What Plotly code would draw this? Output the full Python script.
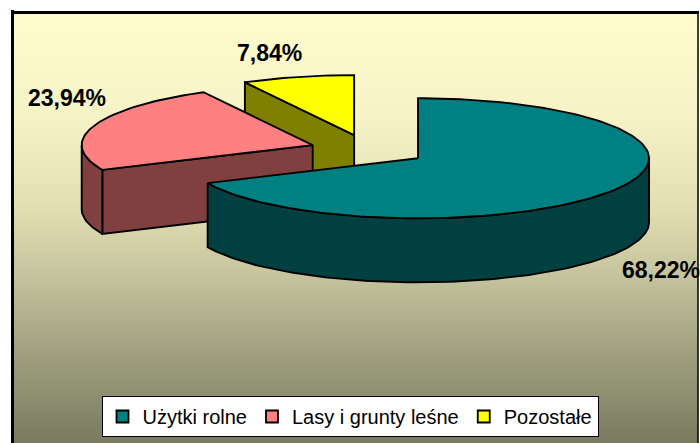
import numpy as np
import plotly.graph_objects as go

# ---------------- data ----------------
categories = ["Użytki rolne", "Lasy i grunty leśne", "Pozostałe"]
values = [68.22, 23.94, 7.84]
top_colors = ["#008080", "#FF8080", "#FFFF00"]
side_colors = ["#004040", "#804040", "#808000"]

# ---------------- layout / geometry constants ----------------
W, H = 700, 443
CX, CY = 368.5, 150.0      # pie centre (pixels)
RX, RY = 231.0, 60.0       # ellipse radii of the tilted pie
DEPTH = 64.0               # thickness of the 3D pie
EXPLODE = 0.255            # explosion, fraction of radius
START = 90.0               # first slice starts at 12 o'clock, goes clockwise
OUTLINE = dict(color="black", width=1.9)
# label nudges relative to outer mid-point of each slice (pixels)
LABEL_NUDGE = [(49, 15), (-27, -28), (-28, -24)]

labels_txt = [f"{v:.2f}".replace(".", ",") + "%" for v in values]


def pt(cx, cy, t, dz=0.0):
    r = np.radians(t)
    return cx + RX * np.cos(r), cy - RY * np.sin(r) + dz


def arc(cx, cy, a, b, dz=0.0):
    n = max(4, int(abs(b - a) / 1.5) + 2)
    ts = np.linspace(a, b, n)
    xs, ys = pt(cx, cy, ts, dz)
    return list(xs), list(ys)


total = sum(values)
slices = []
cum = 0.0
for i, v in enumerate(values):
    hi = START - cum / total * 360.0
    lo = hi - v / total * 360.0
    cum += v
    mid = (hi + lo) / 2.0
    r = np.radians(mid)
    cx = CX + EXPLODE * RX * np.cos(r)
    cy = CY - EXPLODE * RY * np.sin(r)
    slices.append(dict(i=i, lo=lo, hi=hi, mid=mid, cx=cx, cy=cy))

fig = go.Figure()

# background gradient panel inside the frame
fig.add_trace(go.Scatter(
    x=[12, 698, 698, 12, 12], y=[12, 12, H + 5, H + 5, 12],
    mode="lines", line=dict(width=0), fill="toself",
    fillgradient=dict(type="vertical", start=12, stop=H,
                      colorscale=[[0.0, "#FFFDCC"], [0.25, "#F5F3C6"],
                                  [0.45, "#E2DFB3"], [0.62, "#C4C29C"],
                                  [0.78, "#A2A282"], [1.0, "#7A7A60"]]),
    hoverinfo="skip", showlegend=False))


def poly(xs, ys, color):
    fig.add_trace(go.Scatter(x=xs + [xs[0]], y=ys + [ys[0]], mode="lines",
                             fill="toself", fillcolor=color, line=OUTLINE,
                             hoverinfo="skip", showlegend=False))


# painter's order: back slices first
for s in sorted(slices, key=lambda d: d["cy"]):
    i, lo, hi, cx, cy = s["i"], s["lo"], s["hi"], s["cx"], s["cy"]
    side = side_colors[i]
    # radial faces
    for edge, normal in ((hi, hi + 90.0), (lo, lo - 90.0)):
        if np.sin(np.radians(normal)) < -1e-6:
            px, py = pt(cx, cy, edge)
            poly([cx, px, px, cx], [cy, py, py + DEPTH, cy + DEPTH], side)
    # outer rim (front half only: 180..360 mod 360)
    for k in range(-2, 2):
        a = max(lo, 180.0 + 360.0 * k)
        b = min(hi, 360.0 + 360.0 * k)
        if b - a > 1e-6:
            tx, ty = arc(cx, cy, a, b)
            bx, by = arc(cx, cy, b, a, DEPTH)
            poly(tx + bx, ty + by, side)
    # top face
    ax, ay = arc(cx, cy, hi, lo)
    poly([cx] + ax, [cy] + ay, top_colors[i])

# data labels
for s in slices:
    i = s["i"]
    px, py = pt(s["cx"], s["cy"], s["mid"])
    if np.sin(np.radians(s["mid"])) < 0:
        py += DEPTH
    nx, ny = LABEL_NUDGE[i]
    fig.add_annotation(x=px + nx, y=py + ny, text=labels_txt[i], showarrow=False,
                       xanchor="center", yanchor="middle",
                       font=dict(family="Liberation Sans, Arial", size=23,
                                 color="black", weight="bold"))

# legend entries
for name, col in zip(categories, top_colors):
    fig.add_trace(go.Scatter(x=[None], y=[None], mode="markers", name=name,
                             marker=dict(symbol="square", size=12, color=col,
                                         line=dict(color="black", width=1.8))))

# frame
fig.add_shape(type="line", x0=12.5, x1=12.5, y0=10, y1=H + 5,
              line=dict(color="black", width=3), layer="above")
fig.add_shape(type="line", x0=11, x1=699, y0=12.5, y1=12.5,
              line=dict(color="black", width=3), layer="above")
fig.add_shape(type="line", x0=698, x1=698, y0=11, y1=H + 5,
              line=dict(color="black", width=1.5), layer="above")

fig.update_layout(
    width=W, height=H,
    margin=dict(l=0, r=0, t=0, b=0),
    paper_bgcolor="white", plot_bgcolor="white",
    xaxis=dict(range=[0, W], visible=False, fixedrange=True),
    yaxis=dict(range=[H, 0], visible=False, fixedrange=True),
    showlegend=True,
    legend=dict(orientation="h", x=0.5, xanchor="center",
                y=1 - 396 / H, yanchor="top",
                bgcolor="white", bordercolor="black", borderwidth=1,
                font=dict(family="Liberation Sans, Arial", size=20, color="black"),
                itemwidth=30, traceorder="normal"),
)

fig.write_html("out.html",
               config={"displayModeBar": False},
               post_script="document.body.style.margin='0';"
                           "document.body.style.overflow='hidden';")
